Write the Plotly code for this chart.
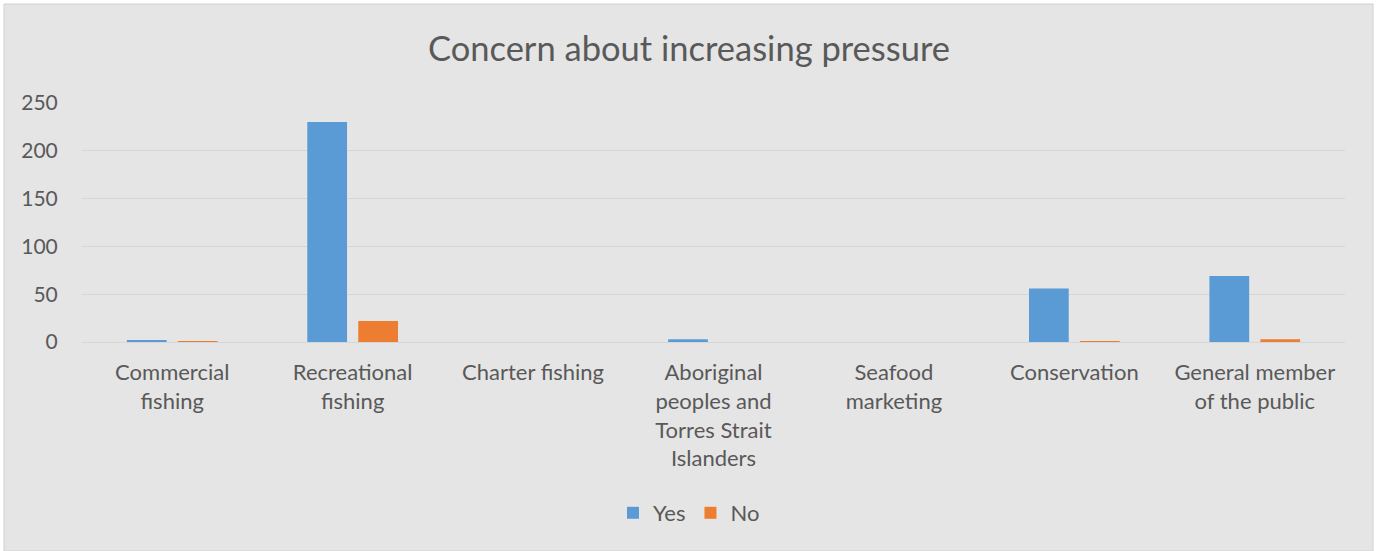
import plotly.graph_objects as go

categories = [
    "Commercial<br>fishing",
    "Recreational<br>fishing",
    "Charter fishing",
    "Aboriginal<br>peoples and<br>Torres Strait<br>Islanders",
    "Seafood<br>marketing",
    "Conservation",
    "General member<br>of the public",
]
yes_counts = [2, 230, 0, 3, 0, 56, 69]
no_counts = [1, 22, 0, 0, 0, 1, 3]
y_ticks = [0, 50, 100, 150, 200, 250]

FONT = "Lato"
TEXT = "#595959"
BG = "#E5E5E5"
GRID = "#D6D6D6"

fig = go.Figure()
fig.add_trace(go.Bar(name="Yes", x=categories, y=yes_counts,
                     marker=dict(color="#5B9BD5", line=dict(width=0))))
fig.add_trace(go.Bar(name="No", x=categories, y=no_counts,
                     marker=dict(color="#ED7D31", line=dict(width=0))))

W, H = 1378, 551
L, R, T, B = 82, 33, 103, 209
pw, ph = W - L - R, H - T - B

def px_x(x):
    return (x - L) / pw

def px_y(y):
    return (H - B - y) / ph

fig.update_layout(
    width=W, height=H,
    margin=dict(l=L, r=R, t=T, b=B, pad=0),
    paper_bgcolor="white",
    plot_bgcolor="rgba(0,0,0,0)",
    barmode="group",
    bargap=0.435,
    bargroupgap=0.22,
    font=dict(family=FONT, color=TEXT, size=22),
    title=dict(text="Concern about increasing pressure",
               x=689 / W, xanchor="center",
               y=1 - 49 / H, yanchor="middle",
               font=dict(family=FONT, size=34.5, color=TEXT)),
    legend=dict(orientation="h", x=px_x(689), xanchor="center",
                y=px_y(513), yanchor="middle",
                font=dict(family=FONT, size=22, color=TEXT),
                bgcolor="rgba(0,0,0,0)", itemwidth=30,
                traceorder="normal"),
    shapes=[dict(type="rect", xref="paper", yref="paper", layer="below",
                 x0=px_x(4), x1=px_x(1373), y0=px_y(4), y1=px_y(551),
                 fillcolor=BG, line=dict(color="#D0D0D0", width=1))],
    xaxis=dict(showgrid=False, showline=True, linecolor=GRID, linewidth=1,
               ticks="outside", ticklen=11, tickcolor="rgba(0,0,0,0)",
               tickfont=dict(family=FONT, size=22, color=TEXT),
               fixedrange=True),
    yaxis=dict(range=[0, 250], tickvals=y_ticks, showgrid=True,
               gridcolor=GRID, gridwidth=1, zeroline=False, showline=False,
               ticks="outside", ticklen=19, tickcolor="rgba(0,0,0,0)",
               tickfont=dict(family=FONT, size=21, color=TEXT),
               fixedrange=True),
)

fig.write_html("out.html")
